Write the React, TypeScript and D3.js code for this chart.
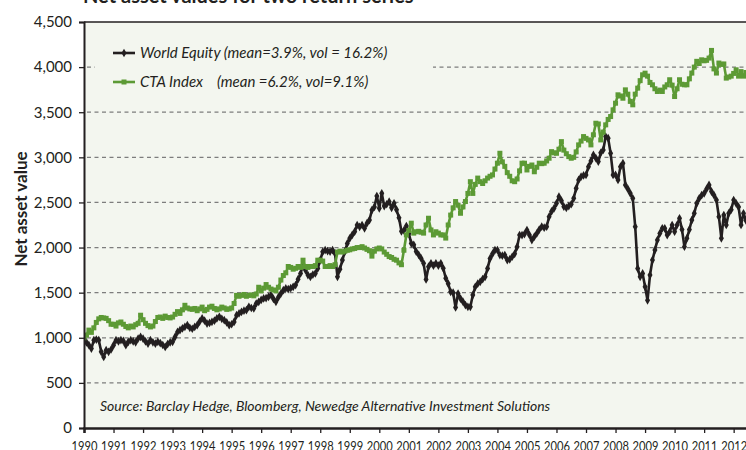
import React, { useEffect, useRef } from "react";
import * as d3 from "d3";

// monthly values, Jan 1990 onwards
const startYear = 1990;

const worldEquity = [
  1000, 950, 918, 881, 973, 980, 975, 844, 788, 862, 845, 870,
  918, 973, 960, 973, 965, 918, 955, 973, 960, 950, 992, 1010,
  990, 960, 936, 973, 950, 936, 955, 940, 920, 899, 930, 950,
  955, 1010, 1065, 1084, 1103, 1121, 1140, 1110, 1100, 1120, 1140, 1180,
  1214, 1190, 1158, 1165, 1177, 1190, 1214, 1232, 1210, 1195, 1170, 1140,
  1150, 1175, 1250, 1270, 1288, 1300, 1306, 1343, 1330, 1325, 1380, 1399,
  1420, 1436, 1440, 1454, 1473, 1430, 1399, 1450, 1490, 1528, 1547, 1540,
  1550, 1565, 1584, 1650, 1713, 1806, 1750, 1695, 1676, 1700, 1713, 1769,
  1861, 1953, 1972, 1960, 1955, 1972, 1935, 1676, 1760, 1861, 1955, 2046,
  2102, 2140, 2176, 2250, 2230, 2250, 2213, 2270, 2305, 2416, 2450, 2571,
  2435, 2601, 2460, 2480, 2509, 2440, 2490, 2420, 2330, 2180, 2190, 2238,
  2155, 2046, 2030, 1955, 1920, 1880, 1825, 1647, 1788, 1825, 1800, 1825,
  1800, 1825, 1770, 1660, 1600, 1510, 1500, 1336, 1490, 1435, 1400, 1362,
  1343, 1343, 1473, 1565, 1600, 1620, 1650, 1676, 1769, 1880, 1930, 1972,
  1972, 1917, 1910, 1917, 1861, 1870, 1898, 1930, 2009, 2139, 2139, 2150,
  2194, 2140, 2083, 2120, 2157, 2200, 2231, 2220, 2231, 2342, 2400, 2435,
  2490, 2564, 2520, 2453, 2440, 2460, 2480, 2546, 2657, 2749, 2786, 2800,
  2805, 2897, 2960, 3027, 2990, 2953, 3050, 3082, 3230, 3212, 3045, 2805,
  2805, 2749, 2897, 2935, 2694, 2650, 2601, 2546, 2231, 1769, 1676, 1713,
  1565, 1415, 1695, 1861, 1972, 2083, 2157, 2213, 2213, 2139, 2176, 2250,
  2176, 2250, 2324, 2200, 2009, 2102, 2200, 2305, 2380, 2490, 2546, 2580,
  2601, 2650, 2694, 2620, 2580, 2527, 2342, 2102, 2360, 2250, 2380, 2420,
  2527, 2490, 2450, 2250, 2380, 2300,
];

const ctaIndex = [
  1000, 1030, 1085, 1060, 1110, 1170, 1210, 1225, 1220, 1215, 1190, 1150,
  1150, 1130, 1165, 1175, 1150, 1125, 1110, 1130, 1120, 1145, 1160, 1250,
  1200, 1160, 1135, 1120, 1130, 1180, 1225, 1230, 1215, 1240, 1225, 1220,
  1230, 1260, 1290, 1270, 1310, 1360, 1330, 1320, 1315, 1325, 1300, 1320,
  1340, 1300, 1315, 1340, 1350, 1325, 1310, 1320, 1340, 1330, 1315, 1320,
  1330, 1380, 1470, 1460, 1470, 1480, 1460, 1470, 1475, 1465, 1485, 1560,
  1520, 1550, 1590, 1560, 1540, 1530, 1520, 1560, 1640, 1690, 1720, 1790,
  1780, 1760, 1770, 1790, 1780, 1860, 1790, 1780, 1790, 1790, 1800, 1860,
  1860, 1850, 1790, 1790, 1800, 1790, 1810, 1950, 1960, 1950, 1960, 1970,
  1975, 1985, 1990, 2000, 2000, 2010, 1995, 1980, 1965, 1905, 1960, 1985,
  1995, 1985, 1950, 1925, 1900, 1890, 1870, 1860, 1830, 1810, 1970, 2140,
  2190, 2270, 2160, 2175, 2180, 2170, 2160, 2250, 2325, 2195, 2140, 2175,
  2160, 2140, 2140, 2105, 2250, 2360, 2440, 2510, 2470, 2380, 2450, 2510,
  2600, 2730, 2600, 2700, 2770, 2730, 2710, 2740, 2770, 2790, 2805, 2870,
  2935, 3045, 2950, 2900, 2830, 2790, 2740, 2730, 2760, 2850, 2935, 2935,
  2860, 2900, 2915, 2840, 2890, 2935, 2930, 2935, 2960, 2990, 3063, 3050,
  3045, 3090, 3174, 3080, 3040, 3008, 2990, 3000, 3060, 3138, 3180, 3230,
  3210, 3193, 3138, 3250, 3378, 3370, 3193, 3280, 3360, 3420, 3452, 3526,
  3600, 3693, 3680, 3655, 3748, 3700, 3620, 3582, 3700, 3767, 3850, 3915,
  3933, 3900, 3830, 3804, 3760, 3730, 3745, 3730, 3780, 3804, 3860, 3800,
  3674, 3760, 3860, 3810, 3804, 3804, 3870, 3934, 4000, 4064, 4040, 4081,
  4070, 4075, 4100, 4185, 3980, 3934, 4045, 4030, 4035, 3878, 3890, 3900,
  3930, 3970, 3900, 3950, 3900, 3940,
];

const yearTicks = [
  1990, 1991, 1992, 1993, 1994, 1995, 1996, 1997, 1998, 1999, 2000, 2001,
  2002, 2003, 2004, 2005, 2006, 2007, 2008, 2009, 2010, 2011, 2012,
];
const valueTicks = [0, 500, 1000, 1500, 2000, 2500, 3000, 3500, 4000, 4500];

const legendLabels = ["World Equity (mean=3.9%, vol = 16.2%)", "CTA Index", "(mean =6.2%, vol=9.1%)"];

const BLACK = "#231f20";
const GREEN = "#5c9a35";

export default function App() {
  const ref = useRef<SVGSVGElement>(null);

  useEffect(() => {
    const width = 746;
    const height = 450;
    const left = 84;
    const top = 22;
    const bottom = 428;

    const svg = d3.select(ref.current);
    svg.selectAll("*").remove();

    const x = d3.scaleLinear().domain([1990, 2013]).range([left, left + 23 * 29.53]);
    const y = d3.scaleLinear().domain([0, 4500]).range([bottom, top]);
    const font = "Lato, 'Open Sans', sans-serif";

    // title, mostly cropped off the top
    svg
      .append("text")
      .attr("x", 83)
      .attr("y", 3)
      .attr("font-family", font)
      .attr("font-weight", 700)
      .attr("font-size", 20)
      .attr("fill", BLACK)
      .text("Net asset values for two return series");

    // plot background
    svg
      .append("rect")
      .attr("x", left)
      .attr("y", top)
      .attr("width", width - left)
      .attr("height", bottom - top)
      .attr("fill", "#f3f6ef");

    // gridlines
    svg
      .append("g")
      .selectAll("line")
      .data(valueTicks.filter((d) => d > 0 && d < 4500))
      .join("line")
      .attr("x1", left + 3)
      .attr("x2", width)
      .attr("y1", (d) => y(d))
      .attr("y2", (d) => y(d))
      .attr("stroke", "#7d7d7d")
      .attr("stroke-width", 1.3)
      .attr("stroke-dasharray", "4,3.5");

    // legend box hides gridline behind it
    svg
      .append("rect")
      .attr("x", 95)
      .attr("y", 32)
      .attr("width", 338)
      .attr("height", 66)
      .attr("fill", "#f3f6ef");

    svg
      .append("defs")
      .append("clipPath")
      .attr("id", "plot-clip")
      .append("rect")
      .attr("x", left)
      .attr("y", top - 6)
      .attr("width", width - left)
      .attr("height", bottom - top + 6);

    const line = d3
      .line<number>()
      .x((d, i) => x(startYear + i / 12))
      .y((d) => y(d));

    const plot = svg.append("g").attr("clip-path", "url(#plot-clip)");

    // World Equity
    plot
      .append("path")
      .datum(worldEquity)
      .attr("d", line)
      .attr("fill", "none")
      .attr("stroke", BLACK)
      .attr("stroke-width", 2.6)
      .attr("stroke-linejoin", "round");
    plot
      .append("g")
      .selectAll("path")
      .data(worldEquity)
      .join("path")
      .attr("d", d3.symbol(d3.symbolDiamond, 22))
      .attr("transform", (d, i) => `translate(${x(startYear + i / 12)},${y(d)})`)
      .attr("fill", BLACK);

    // CTA Index
    plot
      .append("path")
      .datum(ctaIndex)
      .attr("d", line)
      .attr("fill", "none")
      .attr("stroke", GREEN)
      .attr("stroke-width", 2.6)
      .attr("stroke-linejoin", "round");
    plot
      .append("g")
      .selectAll("rect")
      .data(ctaIndex)
      .join("rect")
      .attr("x", (d, i) => x(startYear + i / 12) - 2.5)
      .attr("y", (d) => y(d) - 2.5)
      .attr("width", 5)
      .attr("height", 5)
      .attr("fill", GREEN);

    // frame: top border
    svg
      .append("line")
      .attr("x1", left)
      .attr("x2", width)
      .attr("y1", top)
      .attr("y2", top)
      .attr("stroke", BLACK)
      .attr("stroke-width", 1.5);

    // axes
    const yAxis = svg
      .append("g")
      .attr("transform", `translate(${left},0)`)
      .call(
        d3
          .axisLeft(y)
          .tickValues(valueTicks)
          .tickFormat(d3.format(","))
          .tickSize(5)
          .tickPadding(7)
      );
    yAxis.select(".domain").attr("stroke", BLACK).attr("stroke-width", 2);
    yAxis.selectAll(".tick line").attr("stroke", BLACK).attr("stroke-width", 1.3);
    yAxis
      .selectAll(".tick text")
      .attr("font-family", font)
      .attr("font-size", 15)
      .attr("fill", BLACK);

    const xAxis = svg
      .append("g")
      .attr("transform", `translate(0,${bottom})`)
      .call(
        d3
          .axisBottom(x)
          .tickValues(yearTicks)
          .tickFormat(d3.format("d"))
          .tickSize(5)
          .tickPadding(8)
      );
    xAxis.select(".domain").attr("stroke", BLACK).attr("stroke-width", 2.5);
    xAxis.selectAll(".tick line").attr("stroke", BLACK).attr("stroke-width", 1.3);
    // narrow year labels, partly cropped by the bottom edge as in the source
    xAxis
      .selectAll(".tick text")
      .attr("font-family", font)
      .attr("font-size", 14)
      .attr("transform", "scale(0.8,1)")
      .attr("fill", BLACK);

    // y axis title
    svg
      .append("text")
      .attr("transform", `translate(27,209) rotate(-90)`)
      .attr("text-anchor", "middle")
      .attr("font-family", font)
      .attr("font-weight", 700)
      .attr("font-size", 17)
      .attr("fill", BLACK)
      .text("Net asset value");

    // legend
    const legend = svg.append("g");
    const rows = [
      { color: BLACK, y: 53, square: false },
      { color: GREEN, y: 82, square: true },
    ];
    rows.forEach((r) => {
      legend
        .append("line")
        .attr("x1", 113)
        .attr("x2", 135)
        .attr("y1", r.y)
        .attr("y2", r.y)
        .attr("stroke", r.color)
        .attr("stroke-width", 2.6);
      if (r.square) {
        legend
          .append("rect")
          .attr("x", 121.5)
          .attr("y", r.y - 2.5)
          .attr("width", 5)
          .attr("height", 5)
          .attr("fill", r.color);
      } else {
        legend
          .append("path")
          .attr("d", d3.symbol(d3.symbolDiamond, 22))
          .attr("transform", `translate(124,${r.y})`)
          .attr("fill", r.color);
      }
    });
    const legendText = (tx: number, ty: number, s: string) =>
      legend
        .append("text")
        .attr("x", tx)
        .attr("y", ty)
        .attr("font-family", font)
        .attr("font-style", "italic")
        .attr("font-size", 15)
        .attr("fill", BLACK)
        .text(s);
    legendText(140, 58, legendLabels[0]);
    legendText(140, 87, legendLabels[1]);
    legendText(217, 87, legendLabels[2]);

    // source note
    svg
      .append("text")
      .attr("x", 100)
      .attr("y", 411)
      .attr("font-family", font)
      .attr("font-style", "italic")
      .attr("font-size", 14)
      .attr("fill", BLACK)
      .text("Source: Barclay Hedge, Bloomberg, Newedge Alternative Investment Solutions");
  }, []);

  return (
    <svg
      ref={ref}
      width={746}
      height={450}
      style={{ position: "absolute", left: 0, top: 0, background: "#fff" }}
    />
  );
}
